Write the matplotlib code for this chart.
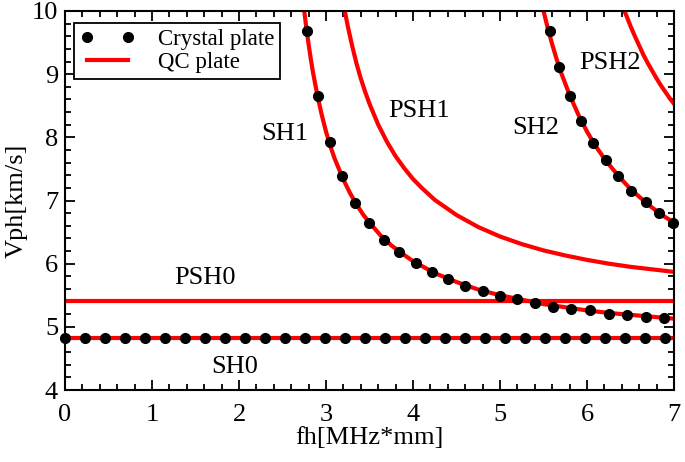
import numpy as np
import matplotlib
matplotlib.use('Agg')
import matplotlib.pyplot as plt
from matplotlib.ticker import MultipleLocator

plt.rcParams['font.family'] = ['Liberation Serif', 'DejaVu Serif']

# crystal plate points
sh0_x = [0.0, 0.23, 0.46, 0.69, 0.92, 1.15, 1.38, 1.61, 1.84, 2.07, 2.30,
         2.53, 2.76, 2.99, 3.22, 3.45, 3.68, 3.91, 4.14, 4.37, 4.60, 4.83,
         5.06, 5.29, 5.52, 5.75, 5.98, 6.21, 6.44, 6.67, 6.90]
sh0_y = [4.82] * len(sh0_x)

sh1_x = [2.78, 2.91, 3.04, 3.18, 3.33, 3.49, 3.67, 3.84, 4.03, 4.22, 4.40,
         4.60, 4.81, 5.00, 5.20, 5.40, 5.61, 5.82, 6.03, 6.25, 6.46, 6.68, 6.89]
sh1_y = [9.68, 8.65, 7.92, 7.39, 6.96, 6.65, 6.38, 6.18, 6.01, 5.87, 5.75,
         5.65, 5.57, 5.49, 5.44, 5.38, 5.32, 5.28, 5.26, 5.21, 5.18, 5.16, 5.14]

sh2_x = [5.57, 5.68, 5.80, 5.93, 6.07, 6.22, 6.36, 6.51, 6.68, 6.83, 6.99]
sh2_y = [9.68, 9.12, 8.65, 8.26, 7.91, 7.64, 7.39, 7.15, 6.97, 6.80, 6.65]

# QC plate curves
qc_sh0_x = [0.0, 7.0]
qc_sh0_y = [4.82, 4.82]
qc_psh0_x = [0.0, 7.0]
qc_psh0_y = [5.41, 5.41]

qc_sh1_x = [2.75, 2.775, 2.8, 2.825, 2.85, 2.9, 2.95, 3.0, 3.05, 3.1, 3.2,
            3.275, 3.35, 3.425, 3.5, 3.625, 3.75, 3.875, 4.0, 4.25, 4.5, 4.75,
            5.0, 5.25, 5.5, 5.75, 6.0, 6.25, 6.5, 6.75, 7.0]
qc_sh1_y = [10.0, 9.72, 9.47, 9.24, 9.03, 8.67, 8.36, 8.09, 7.86, 7.66, 7.33,
            7.12, 6.94, 6.78, 6.65, 6.45, 6.29, 6.16, 6.04, 5.85, 5.71, 5.59,
            5.50, 5.43, 5.36, 5.31, 5.26, 5.22, 5.19, 5.16, 5.13]

qc_psh1_x = [3.216, 3.24, 3.25, 3.3, 3.35, 3.4, 3.45, 3.5, 3.6, 3.7, 3.8,
             3.9, 4.0, 4.1, 4.25, 4.5, 4.75, 5.0, 5.25, 5.5, 5.75, 6.0, 6.25,
             6.5, 6.75, 7.0]
qc_psh1_y = [10.0, 9.83, 9.76, 9.45, 9.17, 8.93, 8.72, 8.53, 8.20, 7.93, 7.70,
             7.51, 7.34, 7.20, 7.01, 6.77, 6.58, 6.43, 6.31, 6.21, 6.13, 6.06,
             6.00, 5.95, 5.91, 5.87]

qc_sh2_x = [5.5, 5.55, 5.6, 5.65, 5.7, 5.8, 5.9, 6.0, 6.1, 6.2, 6.3, 6.4,
            6.5, 6.55, 6.7, 6.85, 7.0]
qc_sh2_y = [10.0, 9.72, 9.47, 9.24, 9.03, 8.67, 8.36, 8.09, 7.86, 7.66, 7.49,
            7.33, 7.18, 7.12, 6.94, 6.78, 6.65]

qc_psh2_x = [6.43, 6.46, 6.5, 6.55, 6.6, 6.65, 6.7, 6.75, 6.8, 6.85, 6.9,
             6.95, 7.0]
qc_psh2_y = [10.0, 9.90, 9.76, 9.60, 9.45, 9.30, 9.17, 9.05, 8.93, 8.82, 8.72,
             8.62, 8.53]

# mode labels
mode_names = ['SH0', 'PSH0', 'SH1', 'PSH1', 'SH2', 'PSH2']
mode_x = [1.95, 1.61, 2.53, 4.07, 5.41, 6.26]
mode_y = [4.36, 5.77, 8.05, 8.41, 8.15, 9.17]

fig = plt.figure(figsize=(6.85, 4.62), dpi=100)
ax = fig.add_axes([0.0949, 0.1558, 0.8891, 0.8204])

red = '#ff0000'
lw = 3.0
qc_curves = [(qc_sh0_x, qc_sh0_y), (qc_psh0_x, qc_psh0_y), (qc_sh1_x, qc_sh1_y),
             (qc_psh1_x, qc_psh1_y), (qc_sh2_x, qc_sh2_y), (qc_psh2_x, qc_psh2_y)]
for i, (cx, cy) in enumerate(qc_curves):
    ax.plot(cx, cy, color=red, lw=lw, zorder=2, solid_joinstyle='round',
            label='QC plate' if i == 0 else None)

first = True
for px, py in [(sh0_x, sh0_y), (sh1_x, sh1_y), (sh2_x, sh2_y)]:
    ax.plot(px, py, 'o', color='black', ms=7, ls='none', zorder=3, clip_on=False,
            label='Crystal plate' if first else None)
    first = False

for name, tx, ty in zip(mode_names, mode_x, mode_y):
    ax.text(tx, ty, name, fontsize=19, ha='center', va='center')

ax.set_xlim(0, 7)
ax.set_ylim(4, 10)
ax.xaxis.set_major_locator(MultipleLocator(1))
ax.xaxis.set_minor_locator(MultipleLocator(0.2))
ax.yaxis.set_major_locator(MultipleLocator(1))
ax.yaxis.set_minor_locator(MultipleLocator(0.2))
ax.tick_params(which='both', direction='in', top=True, right=True,
               width=1.3, labelsize=19)
ax.tick_params(which='major', length=7)
ax.tick_params(which='minor', length=4)
ax.tick_params(axis='x', which='major', pad=10)
ax.tick_params(axis='y', which='major', pad=5)
for s in ax.spines.values():
    s.set_linewidth(1.5)

ax.set_xlabel('fh[MHz*mm]', fontsize=19, labelpad=1)
ax.set_ylabel('Vph[km/s]', fontsize=19, labelpad=3)

handles, labels = ax.get_legend_handles_labels()
order = [labels.index('Crystal plate'), labels.index('QC plate')]
leg = ax.legend([handles[i] for i in order], [labels[i] for i in order],
                loc='upper left', bbox_to_anchor=(0.015, 0.968), borderaxespad=0,
                fontsize=16.5, numpoints=2, handlelength=2.4, handletextpad=1.0,
                fancybox=False, edgecolor='black', framealpha=1,
                borderpad=0.25, labelspacing=0.1)
leg.get_frame().set_linewidth(1.3)

fig.savefig('out.png', dpi=100)
